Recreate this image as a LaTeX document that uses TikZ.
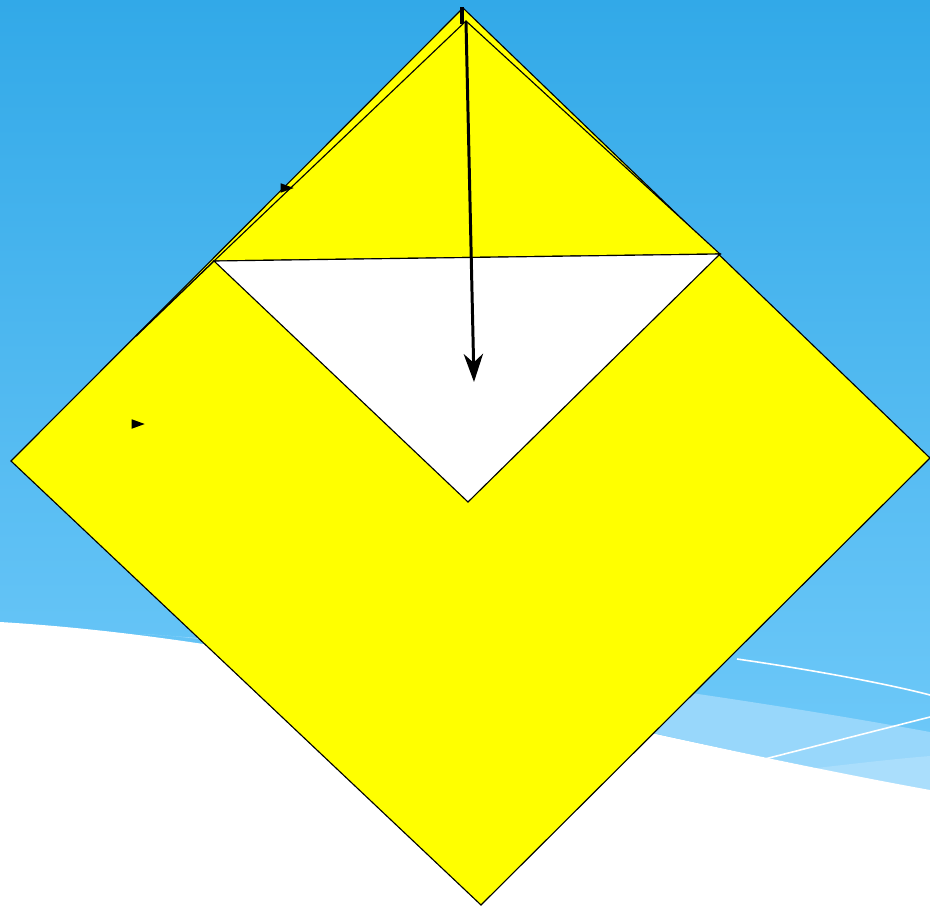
\documentclass[tikz,border=0pt]{standalone}
\usepackage{tikz}
\usetikzlibrary{arrows.meta,shapes.geometric}
\definecolor{skytop}  {RGB}{50,169,232}
\definecolor{skylow}  {RGB}{122,207,252}
\definecolor{skyband} {RGB}{152,215,251}
\definecolor{skypale} {RGB}{170,222,252}
\definecolor{foldyel} {RGB}{255,255,0}
\tikzset{
  paper/.style  ={fill=foldyel, draw=black, line width=0.65pt, line join=miter},
  hole/.style   ={fill=white, draw=black, line width=0.65pt, line join=miter},
  crease/.style ={draw=black, line width=0.8pt},
  wave/.style   ={draw=white, line width=0.9pt},
  foldarr/.style={-{Stealth[length=16pt,width=11pt,inset=5pt]}, line width=1.7pt},
  tick/.style   ={draw=black, line width=2pt},
  marker/.style ={isosceles triangle, isosceles triangle stretches, fill=black,
                  inner sep=0pt, minimum height=0.26cm, minimum width=0.19cm},
}
\begin{document}
\begin{tikzpicture}[x=0.02cm, y=-0.02cm]
  \useasboundingbox (0,0) rectangle (930,906);

  %% sky and wave background
  \shade[top color=skytop, bottom color=skylow] (0,0) rectangle (930,906);
  \fill[skyband] (140,634) .. controls (400,650) and (700,690) .. (930,732)
        -- (930,790) .. controls (600,730) and (300,640) .. (140,634) -- cycle;
  \fill[skypale] (700,782) .. controls (800,770) and (880,760) .. (930,756)
        -- (930,792) -- cycle;
  \fill[white] (0,622) .. controls (300,640) and (600,730) .. (930,790)
        -- (930,906) -- (0,906) -- cycle;
  \draw[wave] (737,659) .. controls (800,668) and (880,682) .. (930,695);
  \draw[wave] (753,762) -- (930,717);

  %% folded square
  \coordinate (top)   at (463,8);
  \coordinate (left)  at (11,461);
  \coordinate (right) at (930,458);
  \coordinate (bot)   at (481,905);
  \coordinate (ftop)  at (466,21);
  \coordinate (fleft) at (214,261);
  \coordinate (fright)at (720,254);
  \coordinate (fbot)  at (468,502);
  \coordinate (fend)  at (136,336);

  \path[paper] (left) -- (top) -- (right) -- (bot) -- cycle;
  \path[paper] (fleft) -- (ftop) -- (fright) -- cycle;
  \path[hole]  (fleft) -- (fright) -- (fbot) -- cycle;
  \draw[crease] (fleft) -- (fend);

  %% fold arrow
  \coordinate (astart) at (466,22);
  \coordinate (aend)   at (474,382);
  \coordinate (tka)    at (462,7);
  \coordinate (tkb)    at (462,24);
  \draw[tick] (tka) -- (tkb);
  \draw[foldarr] (astart) -- (aend);

  %% markers
  \node[marker] (m1) at (284,188) {};
  \node[marker] (m2) at (135,424) {};
\end{tikzpicture}
\end{document}
